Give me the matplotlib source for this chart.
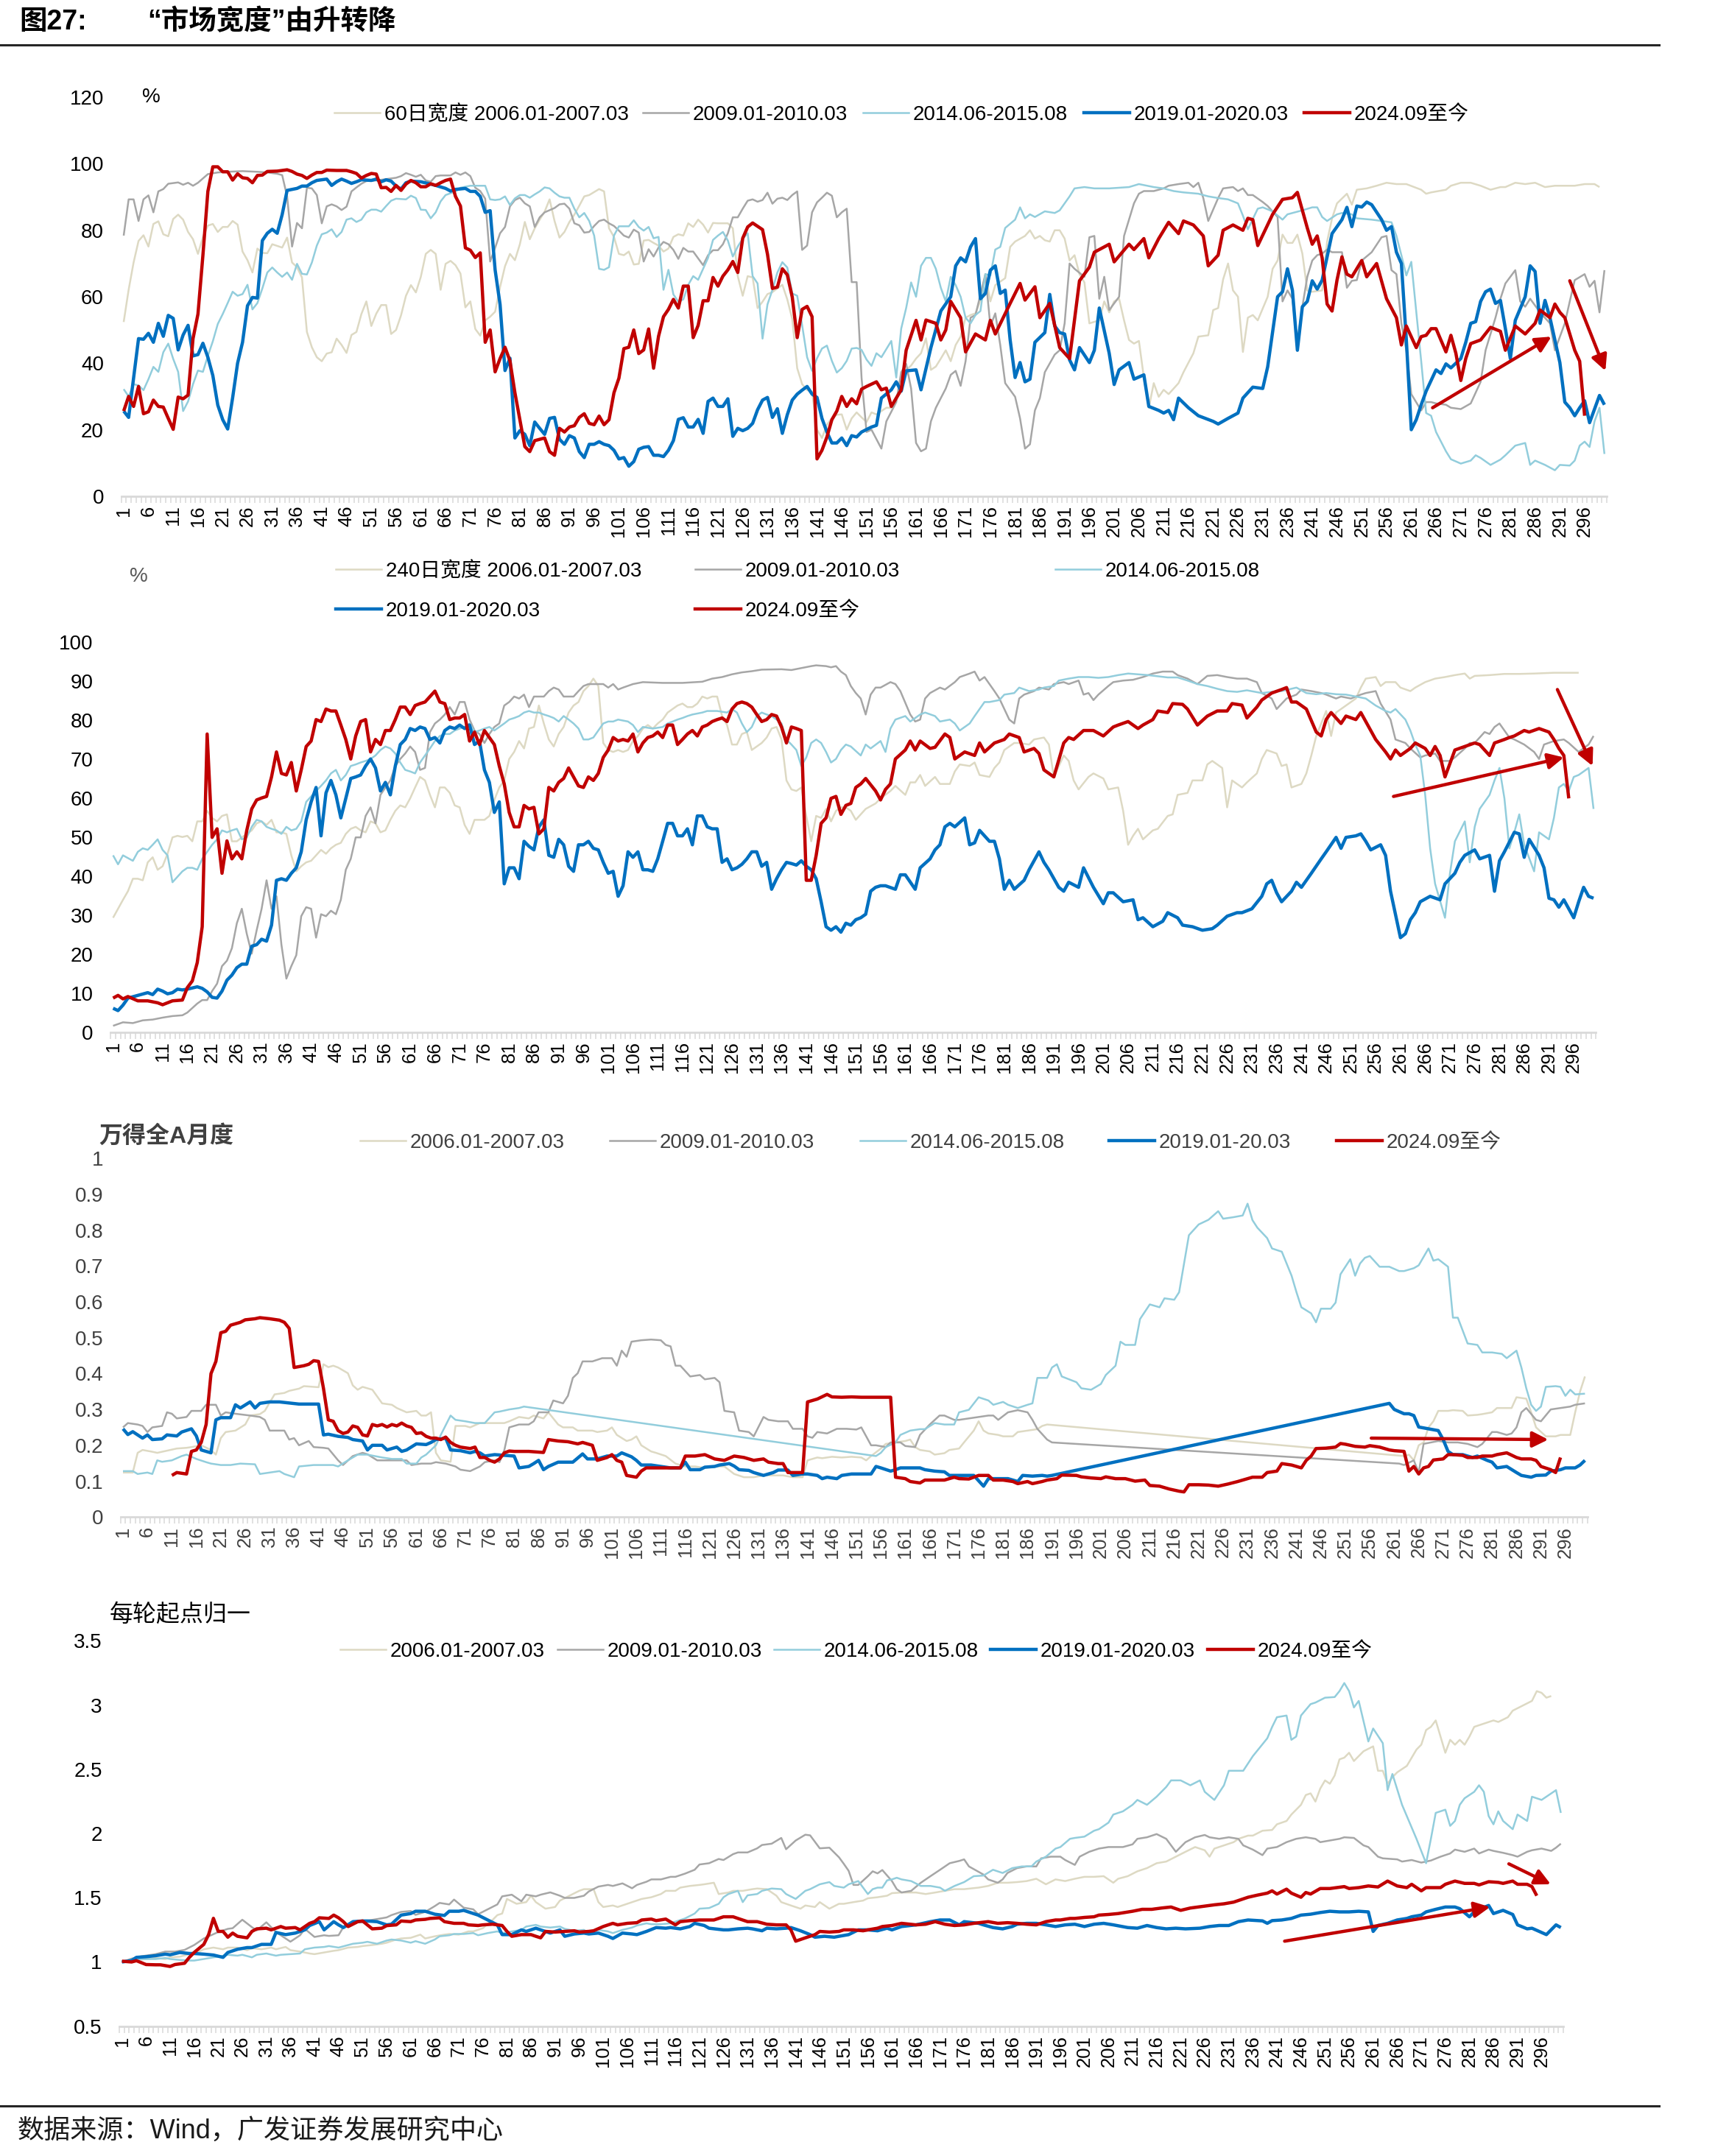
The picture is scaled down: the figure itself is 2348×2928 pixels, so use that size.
import numpy as np
import matplotlib
matplotlib.use('Agg')
import matplotlib.pyplot as plt
from matplotlib.lines import Line2D

plt.rcParams['font.family'] = ['Liberation Sans', 'Noto Sans CJK SC']

W, H = 2348, 2928

# ---------------- panel 1: 60日宽度 (%) ----------------
p1_beige = [(1,52.4),(2,62.1),(3,70.3),(4,76.8),(5,78.5),(6,75.1),(7,81.9),(8,82.7),(9,78.8),(10,78.2),(11,83.4),(12,84.7),(13,83.2),(14,79.5),(15,77.3),(16,72.9),(17,78),(18,81.4),(19,81.9),(20,79.5),(21,81),(22,81),(23,82.8),(24,81.7),(25,73.6),(26,71),(27,67.3),(28,74.5),(29,73.2),(30,73.1),(31,75.8),(32,75.3),(33,74.8),(34,77.8),(35,70.3),(36,68.9),(37,65.8),(38,49.4),(39,44.8),(40,41.8),(41,40.6),(42,42.9),(43,43.3),(44,47.4),(45,45.5),(46,43.1),(47,48.5),(48,49.4),(49,54.8),(50,58.6),(51,51.2),(52,54.9),(53,57.5),(54,57.5),(55,48.8),(56,50),(57,54.4),(58,60.3),(59,63.5),(60,61.3),(61,66),(62,72.9),(63,74.1),(64,72.9),(65,62.1),(66,69.9),(67,70.8),(68,69.5),(69,67),(70,56.8),(71,58.6),(72,50.3),(73,48.3),(74,52.9),(75,54),(76,55.5),(77,62.9),(78,69.2),(79,72.9),(80,71),(81,75.8),(82,82.5),(83,77.3),(84,80.6),(85,83.2),(86,85.6),(87,89.3),(88,82.8),(89,77.8),(90,79.5),(91,82.5),(92,84.7),(93,87.4),(94,90.2),(95,90.6),(96,91.5),(97,92.4),(98,91.7),(99,80.6),(100,78),(101,72.9),(102,72.5),(103,73.6),(104,69.7),(105,69.9),(106,76.9),(107,77.1),(108,76.2),(109,75.4),(110,73.6),(111,74.5),(112,78),(113,78.8),(114,78.4),(115,82.1),(116,81),(117,83.2),(118,81.7),(119,79.3),(120,82.2),(121,82.1),(122,82.1),(123,82.1),(124,80.6),(125,66.2),(126,60.3),(127,66.2),(128,65.8),(129,56.6),(130,58.5),(131,60.8),(132,61.4),(133,62.5),(134,63.6),(135,59.2),(136,53.3),(137,38.5),(138,33.7),(139,31.9),(140,31.5),(141,20),(142,17.5),(143,21.5),(144,23.4),(145,24.5),(146,24.6),(147,20),(148,23.4),(149,25.2),(150,23.7),(151,22.3),(152,25.2),(153,24.6),(155,26.6),(156,26.6),(157,29.9),(158,33.2),(159,38),(160,39.3),(161,41.4),(162,43),(163,47.5),(164,38),(165,39),(166,41.4),(167,43.9),(168,40.6),(169,45.5),(170,48),(171,53.7),(172,54.5),(173,55),(174,59),(175,66.8),(176,58.6),(177,63.5),(179,65.6),(180,75),(181,76.6),(183,78.3),(184,80),(185,77.5),(186,78.3),(187,77),(188,76.6),(189,80),(190,80),(191,77.5),(192,70.9),(193,72.5),(194,66.8),(195,64.3),(196,52),(198,52.9),(199,58.6),(200,55.3),(201,58.6),(202,59.4),(203,52.9),(204,47),(205,45.9),(206,46.7),(207,35.7),(208,26.6),(209,34),(210,29.9),(211,32),(212,30.7),(214,34),(215,37.3),(217,43),(218,48),(220,48.4),(221,56),(222,56.6),(223,65.2),(224,70),(225,61.9),(226,60),(227,43.4),(228,53.7),(229,54.5),(230,52.9),(232,60),(233,68.4),(234,70.9),(235,78.7),(236,76.2),(237,76.2),(238,78.7),(239,73),(240,61.9),(241,61.5),(243,61.9),(244,76.6),(245,83.6),(246,88.1),(248,91),(249,87.7),(250,92.2),(252,92.6),(254,93.4),(256,94.3),(258,93.9),(260,93.9),(263,92.2),(264,91),(265,91.4),(268,92.2),(269,93.4),(271,94.3),(273,94.3),(275,93.4),(277,92.2),(279,93),(280,93),(282,94.3),(284,93.9),(286,94.3),(288,93),(290,93.4),(292,93.4),(294,93.4),(296,93.9),(298,93.9),(299,93)]
p1_gray = [(1,78.4),(2,89.3),(3,89.3),(4,82.8),(5,89.3),(6,90.5),(7,85.4),(8,91.7),(9,92.4),(10,94),(12,94.4),(13,93.7),(14,94.3),(15,93.4),(16,94.3),(17,95.6),(18,96.9),(20,97.4),(22,97.6),(25,97.8),(28,97.6),(30,97.4),(32,97),(33,96.6),(34,90.2),(35,75.1),(36,82.2),(37,80.6),(38,92.8),(39,92.6),(40,90.6),(41,82.1),(42,87.2),(43,87.8),(44,87.2),(45,86.1),(46,87.1),(47,91.7),(48,92.9),(49,94),(50,94.8),(52,95),(54,95.4),(56,95.8),(57,96.3),(58,97.2),(59,96.7),(60,96.1),(61,96.7),(62,95),(63,94.6),(64,96.3),(65,96.5),(67,96.5),(68,97.4),(69,96.7),(70,97.4),(71,96.3),(72,92.8),(73,91.8),(74,89.5),(75,70.6),(76,74.7),(77,79.1),(78,81),(79,87.2),(80,89.1),(81,89.8),(82,88.1),(83,87.2),(84,81),(85,83.9),(86,85.4),(88,86.7),(89,87.8),(90,88),(91,86.5),(92,82.1),(93,81.5),(94,79.3),(95,79.5),(96,81.3),(97,82.8),(98,83.2),(99,82.1),(100,81.3),(101,79.9),(102,78.4),(103,77.8),(104,80.2),(105,79.3),(106,70.6),(107,74.3),(108,72.1),(109,74.8),(110,76.5),(111,75.8),(112,74.1),(113,71.4),(114,74.7),(115,73.6),(116,73.6),(118,69.5),(119,72.5),(120,74),(121,74),(122,75.8),(123,79.1),(124,83.9),(125,83.9),(126,86.5),(127,88.9),(128,89.3),(129,88.6),(130,89.1),(131,91.3),(132,88),(133,89.5),(134,89.8),(135,89.1),(136,90.6),(137,91.7),(138,74.1),(139,75.4),(140,85.4),(141,88.4),(142,89.8),(143,91.3),(144,90.4),(145,83.9),(146,85.4),(147,86.5),(148,64.4),(149,64.4),(150,35.5),(151,19.3),(152,20),(154,14.3),(155,22.5),(157,28.3),(158,37.3),(159,39.8),(160,32.4),(161,16),(162,13.5),(163,14.3),(164,22.5),(165,26.6),(167,32.4),(168,36.5),(169,37.7),(170,33.2),(171,40.6),(172,53.7),(173,54.5),(175,66.8),(176,51.2),(177,55),(178,45.5),(179,34),(181,29.9),(182,23.4),(183,14.3),(184,15.6),(185,25.8),(186,29.5),(187,37.3),(189,42.6),(190,43.9),(191,52),(192,70),(193,68.4),(195,66),(196,77.9),(197,78.3),(198,59.4),(199,66),(200,56),(202,60),(203,78.3),(204,83.2),(205,88.1),(206,91),(207,91.8),(209,91.8),(211,92.6),(212,93.4),(214,93.9),(216,94.3),(217,93),(218,94.3),(219,89.7),(220,82.8),(222,89.7),(223,92.6),(225,93),(226,91.8),(227,92.6),(228,90.6),(229,90.6),(231,88.5),(232,87.3),(234,84),(235,58.6),(236,61.9),(237,59.4),(238,46.3),(239,57),(240,66),(241,70.9),(242,72.5),(243,73),(244,74.2),(245,73.4),(247,73.4),(248,62.7),(249,64.8),(250,65),(251,70.9),(253,73.4),(255,77.9),(256,78.3),(257,68),(258,66.8),(259,52),(260,43.9),(261,30.7),(263,25.8),(264,28.3),(265,28.3),(266,27.9),(268,27.5),(269,26.6),(271,26.2),(273,27.9),(275,34.4),(276,43.9),(278,53.7),(279,59.4),(280,64),(282,68),(283,58.6),(284,57),(285,59.4),(287,55.3),(289,52),(290,43.9),(292,52),(293,58.6),(294,65),(296,66.8),(297,63),(298,64.8),(299,55.3),(300,68)]
p1_lblue = [(1,32.2),(2,30),(3,33.7),(4,33.3),(5,31.9),(6,35.2),(7,38.9),(8,37.4),(9,43.3),(10,45.9),(11,41.3),(12,37.4),(13,25.6),(14,28.5),(15,33.7),(16,37.8),(17,37.4),(18,42.2),(19,46.6),(20,51.8),(21,54.8),(22,58.1),(23,61.5),(24,60.3),(25,60.8),(26,63.6),(27,56.2),(28,58.1),(29,62.5),(30,67.3),(31,68.8),(32,67.3),(33,66),(34,67.3),(35,65.1),(36,69.9),(37,66.9),(38,66.7),(39,70.3),(40,75.4),(41,78.8),(42,79.3),(43,80.3),(44,78),(45,79.5),(46,83.2),(47,83.6),(48,82.5),(49,83.2),(50,85.4),(51,86.2),(52,86.2),(53,85.6),(54,87.3),(55,88.9),(56,89.5),(58,89.3),(59,90.4),(60,89.7),(61,86.2),(62,86.1),(63,83.6),(64,85.4),(65,88.7),(66,90.6),(68,91.7),(69,92.8),(71,93.4),(74,93.4),(75,89.3),(76,89.1),(77,89.3),(78,90.2),(79,87.6),(80,89.6),(81,90.6),(82,90.6),(83,89.8),(84,90.8),(85,91.7),(86,92.9),(87,92.6),(88,91.3),(89,90.2),(90,89.8),(91,89.8),(92,86.5),(93,83.9),(94,85.2),(95,82.8),(96,78.4),(97,68.4),(98,68.1),(99,68.9),(100,78.4),(101,81.2),(103,81.2),(104,83),(105,81),(106,79.9),(107,81),(108,77.6),(109,78),(110,62.1),(111,68.1),(112,60.7),(113,58.5),(114,59.2),(115,63.6),(116,66.2),(117,65.1),(118,68.4),(119,71.7),(120,77.1),(121,78.4),(122,79.5),(123,76.9),(124,72.1),(125,75.1),(126,77.5),(127,79.1),(128,66.2),(129,64),(130,47.4),(131,57.7),(132,62.1),(133,67.3),(134,70.4),(135,68.8),(136,61),(137,60.3),(138,51.4),(139,41.8),(140,37.7),(141,41.5),(142,44.4),(143,45.3),(144,40.7),(145,37.2),(146,38.5),(147,40.7),(148,44.4),(149,44.6),(150,44),(151,41.1),(152,39.2),(153,43),(154,41.8),(156,46.7),(157,35.7),(158,50.4),(159,56.6),(160,64.3),(161,60),(162,69.3),(163,71.7),(164,71.7),(165,68.4),(166,62.7),(167,58.6),(168,66),(169,63.5),(170,60),(171,53.7),(172,52),(173,54.5),(174,55.7),(175,66.8),(176,66.4),(177,74.2),(178,75),(179,80.7),(181,83.2),(182,86.9),(183,83.6),(184,84.8),(185,84),(187,85.7),(189,85.2),(190,86),(192,90.2),(193,92.6),(195,93),(197,92.6),(200,92.6),(204,93),(206,93.9),(209,93),(211,92.6),(213,91.8),(215,91.4),(218,91),(220,90.2),(222,89.7),(224,89.3),(226,88.1),(227,84.4),(228,80.3),(230,86.5),(231,86.9),(233,85.7),(235,83.2),(236,84.8),(239,86),(241,86.9),(242,86.9),(243,84),(244,82.8),(246,84.8),(247,85.2),(249,84.8),(250,83.6),(253,83.2),(255,82.8),(257,82.4),(258,78.3),(259,72.5),(260,66.4),(261,70.5),(263,40.6),(264,25),(265,24.2),(266,19.3),(268,13.5),(269,11.1),(271,9.8),(273,10.7),(274,12.3),(275,11.5),(277,9.4),(279,11),(280,12.3),(282,15.2),(284,16),(285,9.4),(286,10.7),(288,9.4),(290,7.8),(291,9.4),(293,9.2),(294,10.7),(295,15.2),(296,16.4),(297,14.8),(298,22.5),(299,26.6),(300,12.7)]
p1_blue = [(1,25.6),(2,23.7),(3,35.5),(4,47.4),(5,47.2),(6,49),(7,46.3),(8,52),(9,48.1),(10,54.4),(11,53.5),(12,44),(13,48.5),(14,51.4),(15,42.2),(16,42.6),(17,46),(18,41.8),(19,36.3),(20,27.4),(21,23),(22,20.2),(23,29.6),(24,40),(25,46.3),(26,57.3),(27,59.8),(28,59.6),(29,76.9),(30,79.1),(31,80.3),(32,79.1),(33,84.7),(34,92),(36,92.6),(37,93.3),(38,93.3),(39,94.3),(40,95),(42,95.4),(43,93.5),(44,94.6),(45,95.4),(46,94.8),(47,94.1),(48,94.6),(49,95.2),(51,95),(52,95.4),(53,94.6),(54,95.2),(55,94.8),(56,93.3),(57,92.4),(58,94.3),(59,94.8),(61,94.6),(63,93.9),(64,93.5),(66,92.6),(67,91.8),(68,92.3),(70,92.6),(71,91.7),(72,91.7),(73,90.2),(74,85.4),(75,85.9),(76,68.1),(77,57.7),(78,37.8),(79,41.5),(80,17.5),(81,19.7),(82,18.6),(83,15.2),(84,22.3),(85,20.4),(86,18.6),(87,23.4),(88,23.7),(89,17.1),(90,15.6),(91,18.2),(92,17.5),(93,13.4),(94,11.6),(95,15.6),(96,15.6),(97,16.4),(98,15.6),(99,15.2),(100,13.8),(101,11.2),(102,11.6),(103,9),(104,10.4),(105,14.1),(106,14.7),(107,14.9),(108,12.3),(109,12.3),(110,11.9),(111,13.8),(112,16.7),(113,23.1),(114,23.6),(115,20.8),(116,20.8),(117,23.1),(118,18.9),(119,28.5),(120,29.5),(121,27),(122,27),(123,29.3),(124,18),(125,20.4),(126,19.7),(127,20.4),(128,21.9),(129,26),(130,28.9),(131,29.7),(132,23.7),(133,26.3),(134,18.9),(135,24.5),(136,28.9),(137,30.7),(138,31.9),(139,33),(140,30.7),(141,29.7),(142,23.4),(143,19.3),(144,16),(145,16),(146,17.5),(147,15.2),(148,18.2),(149,17.8),(150,19.3),(152,20.8),(153,21.3),(154,29.5),(156,32),(157,34.4),(158,31.6),(159,37.7),(161,38),(162,32),(164,44.7),(166,55.7),(168,60),(169,69.3),(170,71.7),(171,70.5),(172,75),(173,77.5),(174,59.4),(175,61),(176,68),(177,69.3),(178,61),(179,62),(180,47),(181,35.7),(182,40.2),(183,34.4),(184,35.2),(185,46.3),(187,49.2),(188,60.7),(189,51.2),(190,49.2),(191,48.8),(192,41),(193,38),(194,44.7),(196,40.2),(197,43.9),(198,56.6),(200,43),(201,33.6),(202,38),(204,40.2),(205,35.2),(207,36.5),(208,27),(210,25.8),(211,25),(212,25.8),(213,23),(214,29.5),(216,26.6),(218,24.2),(221,22.5),(222,21.7),(224,23.4),(226,25),(227,29.5),(229,32.8),(231,32.4),(232,38.9),(234,60),(235,61.5),(236,68.4),(237,61.9),(238,43.9),(239,57),(240,58.6),(241,64.8),(242,62.3),(243,65),(245,79),(246,81.1),(247,83.2),(248,86.9),(249,81.1),(250,87.3),(251,87),(252,88.5),(253,87.7),(255,83.2),(256,80),(257,81.1),(258,73.4),(259,70),(260,47),(261,20),(262,23),(263,27.5),(264,31.6),(266,38),(267,36.9),(268,39.8),(269,38.6),(271,41.4),(272,46.3),(273,52),(274,52.5),(275,58.6),(276,61.5),(277,62.3),(278,58),(279,58.9),(280,50.4),(281,41.4),(282,52.9),(284,60),(285,69.3),(286,67.6),(287,52),(288,58.9),(289,53.7),(291,40.2),(292,28.3),(293,26.6),(294,24.2),(295,26.6),(296,28.7),(297,22.1),(298,26.2),(299,30.3),(300,27.5)]
p1_red = [(1,25.6),(2,30),(3,27),(4,33),(5,24.8),(6,25.4),(7,28.9),(8,27),(9,26.8),(10,23.4),(11,20.1),(12,29.8),(13,29.3),(14,30.4),(15,47.4),(16,54.8),(17,72.5),(18,91.7),(19,99.1),(20,99.1),(21,97.6),(22,97.6),(23,95.1),(24,97),(25,95.8),(26,95.6),(27,94.3),(28,96.5),(29,96.6),(30,97.7),(32,97.8),(34,98.2),(35,97.7),(36,96.9),(37,96.5),(38,95.6),(39,96.6),(40,97.4),(41,97.4),(42,98.1),(44,98),(46,98),(47,97.6),(48,97.1),(49,95.7),(50,96.5),(51,97.1),(52,96.9),(53,92.8),(54,92.9),(55,91.7),(56,93.5),(57,92),(58,93.9),(59,95),(60,94.3),(61,93.1),(62,93.1),(63,94),(64,93.5),(65,94.3),(66,95),(67,95.4),(68,90.2),(69,87.3),(70,74.7),(71,74),(72,71.8),(73,73.2),(74,46.3),(75,50),(76,37.4),(77,41.4),(78,44.8),(79,40.7),(80,31.1),(81,23),(82,14.9),(83,13.4),(84,16.7),(86,17.5),(87,13.4),(88,12.3),(89,20.4),(90,19.3),(91,20.8),(92,21.2),(93,23.7),(94,24.8),(95,21.9),(96,21.5),(97,24.1),(98,21.5),(99,23),(100,31.1),(101,35.5),(102,44.4),(103,44.8),(104,50),(105,42.9),(106,44),(107,50.3),(108,38.5),(109,48.1),(110,54),(111,56.2),(112,59.2),(113,56.6),(114,63.2),(115,63.2),(116,47.7),(117,51.4),(118,58.8),(119,58.8),(120,65.8),(121,63.2),(122,66.2),(123,68.1),(124,70.6),(125,67.3),(126,77.6),(127,81),(128,82.2),(129,81.2),(130,80.2),(131,72.8),(132,62.5),(133,62.9),(134,68.4),(135,66.6),(136,59.9),(137,47.7),(138,56.2),(139,57.1),(140,54),(141,11.2),(142,13.8),(143,17.8),(144,23),(145,25.6),(146,30),(147,27),(148,29.3),(149,27.8),(150,32.2),(151,33),(153,34.4),(154,32),(155,32.5),(156,27),(158,32),(159,43.9),(161,52.9),(162,47),(163,53),(165,52),(166,47),(167,50),(168,58.6),(170,53.7),(171,43.4),(173,48.8),(175,47),(176,52.9),(177,48.8),(180,58),(182,64),(183,59),(185,63),(186,53.7),(188,58),(190,44.7),(192,41.4),(194,64.8),(196,68.9),(197,73.4),(199,75),(200,75.8),(201,70.5),(204,75.8),(205,74.2),(207,77.5),(208,71.7),(210,77.5),(212,82.4),(214,79),(215,82.8),(217,81.6),(219,78.3),(220,69.3),(222,72.5),(223,80),(225,81.6),(227,80),(228,83.6),(229,83.2),(230,75.4),(233,84.8),(235,89.3),(237,89.8),(238,91.4),(240,80.7),(241,75.8),(242,78.3),(243,71.7),(244,57.8),(245,55.7),(246,65),(247,72),(248,66.8),(249,66),(251,70.9),(252,66),(254,70),(256,59.4),(258,53.7),(259,45.5),(260,51.2),(262,44.7),(263,48),(264,48.4),(265,50.4),(266,50.4),(268,43.4),(269,48.4),(270,43),(271,34.8),(272,41.4),(273,45.9),(275,47),(277,50.8),(279,49.6),(280,43.9),(282,51.2),(284,48.8),(286,52),(287,56),(289,53.7),(290,57.8),(291,55.3),(292,53.7),(294,43.9),(295,40.6),(296,24.2)]

# ---------------- panel 2: 240日宽度 (%) ----------------
p2_beige = [(1,29.3),(2,31.6),(3,33.9),(4,36.1),(5,39.3),(6,39.3),(7,38.9),(8,43.5),(9,44.8),(10,41.6),(11,42.5),(12,45.7),(13,49.9),(14,50.3),(15,50),(16,50.3),(17,48.9),(18,54),(19,54),(20,56.7),(21,54.9),(22,54),(23,55.4),(24,55.8),(25,48.9),(26,48.9),(27,49.9),(28,50.8),(29,51.7),(30,53.5),(31,54),(32,53.1),(33,54.4),(34,51.2),(35,51.2),(36,50.8),(37,45.3),(38,41.2),(39,42.5),(40,43.5),(41,43.9),(42,45.3),(43,46.7),(44,45.7),(45,47.1),(46,48),(47,48.5),(48,50.8),(49,52.1),(50,52.6),(51,51.7),(52,51.2),(53,54),(54,53.5),(55,51.2),(56,51.7),(57,54.4),(58,56.7),(59,58.1),(60,57.6),(61,59.9),(62,62.7),(63,65.4),(64,64.5),(65,60.8),(66,57.6),(67,62.7),(68,62.7),(69,61.3),(70,58.1),(71,57.6),(72,53.1),(73,50.8),(74,54.4),(75,54.4),(76,54.4),(77,55.4),(78,59.5),(79,62.7),(80,64.5),(81,70),(82,71.8),(83,74.6),(84,72.7),(85,77.8),(86,78.2),(87,83.7),(88,79.1),(89,75),(90,73.2),(91,76.4),(92,78.2),(93,81.9),(94,83.7),(95,84.6),(96,87.4),(97,88.7),(98,90.6),(99,88.7),(100,74.1),(101,72.3),(102,71.8),(103,72.3),(104,71.8),(105,72.3),(106,74.6),(107,75.9),(108,77.8),(109,78.7),(110,77.8),(111,79.1),(112,80.1),(113,81.9),(114,82.8),(115,83.7),(116,84.2),(117,83.3),(118,83.3),(119,84.2),(120,86),(121,85.5),(122,86),(123,86),(124,81),(125,78.7),(126,73.7),(127,73.7),(128,76.4),(129,76.9),(130,72.3),(131,73.2),(132,74.1),(133,75.5),(134,77.8),(135,78.2),(136,75),(137,64.5),(138,62.2),(139,61.8),(140,62.7),(141,55.4),(142,48.9),(143,55.4),(144,54.9),(145,57.2),(146,54),(147,56.7),(148,57.6),(149,57.6),(150,56.7),(151,54.4),(152,55.8),(153,57.2),(155,58.6),(156,59.9),(158,61.8),(159,63.1),(161,60.8),(162,64),(163,64),(164,65.9),(165,63.1),(167,65.4),(168,63.6),(170,63.6),(171,66.8),(172,68.6),(174,68.2),(175,69.1),(176,65.9),(178,65.4),(179,67.7),(180,69.1),(181,72.3),(183,74.1),(184,74.1),(186,73.7),(187,75),(189,75.5),(190,73.7),(191,65.4),(193,70.9),(194,69.5),(195,64.5),(196,62.2),(198,65.4),(199,66.3),(201,65),(202,62.2),(204,62.7),(205,56.7),(206,48),(207,50.3),(208,52.1),(209,49.4),(211,51.7),(212,52.1),(214,55.4),(215,55.8),(216,60.8),(218,61.3),(219,64.5),(221,64.5),(222,68.6),(223,69.5),(225,67.7),(226,57.6),(227,64.5),(229,62.7),(230,64),(232,66.3),(233,70),(234,72.3),(236,71.4),(237,68.2),(238,68.6),(239,62.7),(241,63.6),(242,66.3),(243,70.9),(244,75.9),(246,82.3),(247,75.9),(248,81.9),(250,83.7),(252,85.5),(253,88.3),(254,90.6),(256,91),(257,88.7),(258,89.7),(260,89.7),(261,88.3),(263,87.4),(264,88.3),(266,89.7),(268,90.6),(270,91),(272,91.5),(274,91.9),(275,90.6),(276,91.3),(279,91.5),(282,91.8),(285,91.8),(288,91.9),(292,92.1),(295,92.1),(297,92.1)]
p2_gray = [(1,1.6),(3,2.5),(5,2.3),(7,3),(9,3.2),(11,3.7),(13,4.1),(15,4.3),(16,5),(18,7.3),(19,8.2),(20,8.2),(21,10.5),(22,12.4),(23,16.9),(24,18.3),(25,21.5),(26,27.9),(27,31.6),(28,25.2),(29,20.1),(30,26.1),(31,31.6),(32,38.9),(33,31.6),(34,34.8),(35,22.4),(36,13.7),(37,16.9),(38,19.7),(39,29.7),(40,32),(41,31.6),(42,24.2),(43,30.2),(44,29.7),(45,31.1),(46,30.2),(47,33.9),(48,41.6),(49,44.4),(50,49.9),(51,49.9),(52,55.4),(53,57.6),(54,53.5),(55,60.8),(56,62.7),(57,64.5),(58,68.2),(59,70),(60,71.4),(61,73.2),(62,71.8),(63,67.2),(64,67.7),(65,76.9),(66,79.1),(67,80.1),(68,81.4),(69,83.3),(70,81.4),(71,84.6),(72,84.6),(73,80.1),(74,77.3),(75,76.4),(76,74.1),(77,76.4),(78,78.2),(79,79.1),(80,83.7),(81,84.6),(82,86),(83,85.5),(84,86.5),(85,83.3),(86,86),(88,86),(89,87.4),(90,88.3),(91,87.8),(92,86),(94,86),(95,87.4),(96,88.7),(97,89.2),(100,89.2),(101,88.3),(102,89.2),(103,87.8),(104,88.3),(106,89.2),(108,89.7),(112,89.5),(116,89.5),(120,89.8),(122,90.6),(124,91),(126,91.7),(128,92.2),(130,92.5),(132,92.9),(136,93),(138,92.8),(140,93.3),(142,93.8),(143,94),(145,93.8),(146,93.5),(147,93.8),(148,92.4),(149,91.5),(150,88.7),(151,86.9),(152,85.5),(153,81.4),(154,86.5),(155,88.3),(156,88.3),(158,89.7),(159,89.2),(160,87.4),(162,81.4),(163,79.6),(164,80.1),(165,85.5),(166,86.9),(168,88.3),(169,87.8),(171,89.7),(172,91),(174,91.9),(175,92.4),(176,90.1),(177,91),(179,87.4),(180,85.5),(182,80.1),(183,79.1),(184,85.5),(185,86.5),(187,87.4),(188,88.3),(190,87.8),(191,89.2),(193,89.7),(194,89.2),(196,90.1),(197,86.5),(198,86.9),(199,85.1),(200,86.5),(202,88.7),(203,89.7),(205,90.1),(207,90.3),(209,91),(211,91.9),(213,92.4),(215,92.4),(216,91.5),(218,90.6),(220,89.2),(222,91.3),(224,91.5),(226,91),(228,90.6),(230,90.6),(232,89.7),(233,86.9),(235,85.5),(236,82.8),(238,85.5),(240,86.5),(241,87.8),(243,87.4),(245,86.9),(246,86.5),(248,85.5),(249,86),(251,85.5),(253,86.5),(254,86.9),(256,87.4),(257,84.2),(259,80.1),(260,75),(262,74.1),(263,72.7),(265,70.4),(266,70.9),(268,71.4),(269,69.5),(271,69.5),(272,70.4),(274,72.7),(275,74.1),(276,74.1),(278,76.9),(279,76.4),(280,78.2),(281,79.1),(283,75.5),(284,75),(286,73.7),(288,71.8),(289,70),(290,73.7),(292,74.6),(294,75),(295,74.1),(297,71.8),(299,73.7),(300,75.9)]
p2_lblue = [(1,45.3),(2,43),(3,45.3),(4,44.6),(5,43.9),(6,46.2),(7,47.1),(8,46.7),(9,48),(10,49.4),(11,46.7),(12,45.3),(13,38.4),(14,39.8),(15,41.2),(16,42.1),(17,42.1),(18,41.6),(19,44.4),(20,46.2),(21,48),(22,49.4),(23,51.7),(24,51.2),(25,51.7),(26,52.1),(27,49.4),(28,49.9),(29,52.6),(30,54.4),(31,54),(32,52.6),(33,52.1),(34,51.7),(35,50.8),(36,52.6),(37,51.7),(38,52.1),(39,54),(40,59),(41,60.4),(42,61.8),(43,63.1),(44,64.5),(45,66.3),(46,67.2),(47,64.5),(48,65.9),(49,68.2),(50,68.6),(51,69.1),(52,69.5),(53,70),(54,70.9),(55,72.3),(56,73.2),(57,72.7),(58,71.4),(59,69.1),(60,67.2),(61,66.8),(62,66.3),(63,69.1),(64,70.9),(65,72.7),(66,74.6),(67,75.9),(68,76.4),(69,76.4),(70,77.3),(71,77.8),(72,78.2),(73,79.1),(74,76.9),(75,77.3),(76,77.8),(77,78.2),(78,77.3),(79,78.2),(80,79.1),(81,80.1),(82,80.5),(83,81),(84,81.9),(85,82.3),(86,81.9),(87,81.9),(88,81.4),(89,81),(90,80.5),(91,79.6),(92,81),(93,80.1),(94,79.1),(95,77.8),(96,75),(97,75),(98,75.5),(99,77.3),(100,79.1),(101,79.6),(102,79.6),(103,80.1),(105,79.6),(106,78.7),(107,76.9),(108,78.2),(110,77.8),(112,78.2),(113,79.1),(114,79.6),(115,80.1),(116,80.5),(117,81),(118,81.4),(120,81.9),(121,82.3),(123,82.3),(125,81.9),(126,82.8),(127,81.9),(128,79.1),(129,76.9),(130,78.2),(131,81),(132,81.9),(133,81.4),(134,81),(135,80.1),(136,79.1),(137,75),(138,73.7),(139,72.3),(140,68.2),(141,70.4),(142,74.1),(143,75),(144,74.1),(145,71.8),(146,69.1),(147,70),(148,72.3),(149,73.7),(150,73.2),(152,70.9),(153,73.7),(154,72.7),(156,74.6),(157,71.8),(158,77.8),(159,80.1),(161,81),(162,79.6),(164,81.4),(165,81.9),(167,81),(168,79.6),(170,80.1),(171,79.1),(172,77.3),(174,79.1),(175,81),(177,84.6),(178,84.6),(180,85.1),(181,86.5),(183,86.9),(184,88.3),(186,87.4),(188,87.8),(189,88.3),(191,88.7),(192,90.1),(194,90.6),(196,91),(198,91),(200,90.8),(202,91),(204,91.5),(206,91.9),(208,91.7),(210,91.5),(212,91.2),(214,90.9),(216,90.9),(218,90.1),(220,89.2),(222,88.7),(224,88),(226,87.4),(228,87.2),(230,87.6),(233,86.9),(235,87.2),(237,87.4),(240,88.3),(242,86.9),(244,86.6),(246,86.9),(248,86.6),(250,86.5),(252,86),(254,85.5),(256,83.7),(258,82.3),(259,81.9),(260,82.8),(262,80.1),(263,77.3),(264,73.7),(265,70.9),(266,60.8),(267,47.1),(268,38),(270,29.3),(271,40.7),(272,48.9),(274,54),(275,43.5),(276,52.6),(277,57.2),(279,60.8),(280,64.5),(281,67.7),(282,59.9),(283,47.1),(284,51.2),(285,55.8),(286,48),(288,41.2),(289,51.2),(291,49.4),(292,54.9),(293,62.7),(294,63.6),(295,61.8),(296,65.4),(297,65.9),(299,67.7),(300,57.2)]
p2_blue = [(1,6.1),(2,5.5),(3,6.9),(4,8.7),(6,9.4),(8,10.1),(9,9.6),(10,11),(11,10.5),(12,9.8),(13,10.1),(14,11),(15,10.8),(16,11),(18,11.6),(19,11.2),(20,10.3),(21,8.9),(22,8.7),(23,10.5),(24,13.3),(25,14.6),(26,16.5),(27,17.4),(28,17.4),(29,22),(30,22.4),(31,23.8),(32,23.3),(33,27.4),(34,38.9),(35,39.3),(36,38.9),(37,40.7),(38,42.1),(39,46.2),(40,54.4),(41,59),(42,62.7),(43,50.3),(44,61.3),(45,64.5),(46,60.8),(47,54.9),(48,59.9),(49,65),(50,65.4),(51,65.9),(52,68.2),(53,70),(54,67.7),(55,61.8),(56,64),(57,60.8),(58,68.2),(59,73.7),(60,75),(61,77.8),(62,77.3),(63,78.2),(64,77.8),(65,75),(66,75.5),(67,74.1),(68,77.3),(69,78.2),(70,77.8),(71,78.7),(72,77.8),(73,78.7),(74,73.7),(75,74.6),(76,67.2),(77,64),(78,56.3),(79,59),(80,38),(81,42.1),(82,42.1),(83,39.3),(84,48.9),(85,47.6),(86,46.7),(87,52.6),(88,54.4),(89,45.3),(90,44.8),(91,49.4),(92,48),(93,42.5),(94,41.2),(95,48),(96,48),(97,48.9),(98,47.1),(99,46.7),(100,43.5),(101,40.7),(102,41.2),(103,34.8),(104,37.5),(105,46.2),(106,44.8),(107,46.2),(108,41.6),(109,41.6),(110,41.2),(111,44.4),(112,48.9),(113,53.5),(114,53.5),(115,50.3),(116,50.3),(117,52.1),(118,48),(119,55.4),(120,55.4),(121,52.6),(122,52.1),(123,52.1),(124,43.5),(125,44.4),(126,41.6),(127,42.1),(128,43),(129,44.4),(130,46.2),(131,46.2),(132,42.5),(133,43.5),(134,36.6),(135,39.3),(136,41.6),(137,43.5),(138,43.2),(139,42.8),(140,43.9),(141,42.5),(142,41.6),(143,39.3),(144,33.4),(145,27),(146,26.1),(147,27),(148,25.6),(149,27.9),(150,27.4),(151,28.8),(152,29.3),(153,30.2),(154,36.1),(155,37.1),(156,37.5),(157,37.5),(159,36.6),(160,40.3),(161,40.3),(163,36.6),(164,42.1),(166,44.4),(167,46.7),(168,48),(169,52.6),(170,53.5),(171,52.6),(173,54.9),(174,48),(175,48.5),(176,51.7),(178,48.9),(179,48.9),(180,44.4),(181,36.6),(182,38.9),(183,36.6),(185,38.9),(186,41.6),(188,46.2),(189,43.5),(190,41.6),(192,37.1),(193,36.1),(194,38.4),(196,37.1),(197,42.1),(199,37.1),(201,32.9),(202,35.7),(203,35.7),(205,33.4),(207,33.9),(208,28.8),(209,29.3),(211,27),(213,28.4),(214,30.6),(216,29.3),(217,27.4),(219,27),(221,26.1),(223,26.5),(224,27.4),(226,29.7),(228,30.6),(229,30.6),(231,31.6),(233,34.8),(234,38),(235,38.9),(236,35.7),(237,33.4),(239,36.1),(240,38.4),(241,37.1),(243,40.7),(245,44.4),(246,46.2),(248,49.9),(249,47.1),(250,49.9),(252,50.3),(253,50.8),(254,48.9),(255,46.7),(257,48),(258,45.3),(259,36.1),(261,24.2),(262,25.2),(263,28.8),(264,30.6),(265,33.4),(267,34.8),(269,33.9),(270,38),(272,40.7),(273,43.5),(274,45.3),(276,46.7),(277,44.4),(279,45.3),(280,36.1),(281,43.9),(282,46.2),(284,51.2),(285,50.8),(286,44.8),(287,49.4),(289,45.3),(290,42.1),(291,34.3),(292,33.9),(293,32),(294,33.9),(296,29.3),(297,33.4),(298,37.1),(299,34.8),(300,34.3)]
p2_red = [(1,8.7),(2,9.4),(3,8.5),(4,9.1),(6,8),(8,8),(10,7.5),(11,7),(13,8),(15,8.2),(16,11.4),(17,13.1),(18,17.8),(19,27),(20,76.4),(21,49.9),(22,52.1),(23,40.7),(24,49),(25,44.4),(26,46.2),(27,44.4),(28,51.7),(29,57.2),(30,59.5),(31,60),(32,60.4),(33,65.4),(34,71.8),(35,66.3),(36,65.9),(37,69.1),(38,61.8),(39,67.2),(40,73.2),(41,74.6),(42,80.1),(43,79.6),(44,82.8),(45,82.3),(46,82.3),(47,78.7),(48,75),(49,70),(50,75.9),(51,79.6),(52,80.1),(53,71.8),(54,75),(55,73.7),(56,77.3),(57,77.3),(58,80.1),(59,83.3),(60,83.3),(61,81.4),(62,83.7),(63,84.2),(64,84.6),(65,86),(66,87.4),(67,84.6),(68,84.2),(69,80.1),(70,80.5),(71,80.5),(72,81.4),(73,74.6),(74,76.9),(75,73.7),(76,77.3),(77,75.5),(78,73.7),(79,68.2),(80,63.6),(81,56.3),(82,52.6),(83,52.6),(84,58.1),(85,57.2),(86,57.6),(87,50.8),(88,52.1),(89,62.7),(90,61.8),(91,64),(92,65),(93,67.7),(94,65.4),(95,63.1),(96,62.7),(97,65.4),(98,64.5),(99,66.3),(100,70.4),(101,72.3),(102,75.5),(103,74.6),(104,75),(105,74.6),(106,76.4),(107,71.8),(108,74.1),(109,75.5),(110,75.9),(111,76.9),(112,75.5),(113,78.7),(114,78.7),(115,73.7),(116,75),(117,76.4),(118,77.3),(119,75.9),(120,78.2),(121,78.7),(122,79.6),(123,80.1),(124,80.5),(125,79.6),(126,82.8),(127,84.2),(128,84.6),(129,84.2),(130,83.3),(131,81.4),(132,79.6),(133,80.1),(134,81.4),(135,81),(136,78.2),(137,74.1),(138,78.2),(139,77.8),(140,77.3),(141,38.9),(142,38.9),(143,45.3),(144,53.5),(145,54.9),(146,59.9),(147,60.4),(148,55.8),(149,58.1),(150,58.6),(151,62.7),(152,63.6),(153,65),(155,61.8),(156,59.5),(157,62.2),(158,63.6),(159,70),(161,72.3),(162,74.6),(163,72.3),(164,74.6),(166,72.7),(167,73),(169,76.4),(170,75.5),(171,70),(173,71.8),(175,70.9),(176,74.1),(177,71.8),(179,74.1),(181,75),(182,76.4),(184,75.5),(185,71.8),(187,72.7),(188,71.4),(189,67.2),(191,65.4),(193,74.1),(194,75.5),(195,75),(197,77.3),(199,77.3),(201,75.9),(203,78.2),(204,78.7),(206,79.6),(208,77.8),(209,78.7),(211,80.1),(212,82.3),(214,81.9),(215,84.2),(217,84),(218,82.8),(220,78.7),(222,81),(224,82.3),(226,82.3),(227,84.2),(229,83.8),(230,80.5),(232,83.3),(233,85.1),(235,86.9),(237,87.8),(238,88.3),(239,84.6),(240,84.6),(242,82.8),(244,76.9),(245,75.9),(246,80.1),(247,81.9),(249,79.1),(250,81),(252,80.1),(253,81.9),(255,77.3),(256,75),(258,71.8),(259,70),(260,72.3),(261,70.9),(263,72.7),(264,74.1),(266,72.7),(267,70.9),(268,73.2),(269,70.9),(270,65.4),(272,72.3),(274,73.2),(276,74.1),(277,73.7),(279,70.9),(280,74.1),(282,75),(283,75.5),(284,75.9),(286,77.3),(287,76.9),(289,77.8),(291,76.9),(292,75),(293,72.7),(294,70.9),(295,59.9)]

# ---------------- panel 3: 万得全A月度 ----------------
p3_beige = [(1,0.124),(3,0.124),(4,0.179),(5,0.187),(7,0.182),(8,0.179),(10,0.185),(12,0.191),(14,0.193),(15,0.195),(17,0.2),(19,0.187),(20,0.174),(21,0.22),(22,0.237),(24,0.241),(26,0.258),(27,0.283),(29,0.287),(30,0.296),(32,0.342),(34,0.346),(35,0.352),(37,0.358),(38,0.365),(41,0.362),(42,0.426),(43,0.418),(44,0.422),(45,0.417),(47,0.401),(48,0.367),(49,0.355),(50,0.363),(52,0.355),(54,0.317),(56,0.313),(57,0.304),(59,0.292),(61,0.296),(62,0.283),(63,0.283),(64,0.292),(65,0.179),(66,0.158),(68,0.154),(69,0.254),(71,0.254),(72,0.25),(74,0.262),(76,0.262),(77,0.262),(79,0.262),(80,0.267),(82,0.279),(84,0.275),(85,0.283),(87,0.275),(88,0.292),(90,0.258),(91,0.25),(93,0.25),(94,0.241),(97,0.241),(98,0.237),(100,0.241),(101,0.25),(102,0.229),(104,0.212),(105,0.216),(106,0.225),(107,0.2),(109,0.183),(110,0.179),(112,0.17),(114,0.149),(116,0.141),(118,0.141),(120,0.137),(122,0.141),(124,0.141),(126,0.12),(128,0.111),(130,0.111),(132,0.116),(134,0.116),(136,0.116),(138,0.111),(140,0.111),(141,0.158),(143,0.166),(144,0.164),(146,0.168),(148,0.166),(150,0.168),(152,0.166),(153,0.158),(154,0.17),(156,0.191),(157,0.204),(159,0.208),(161,0.212),(162,0.216),(163,0.195),(164,0.187),(166,0.183),(167,0.174),(169,0.178),(170,0.187),(172,0.191),(173,0.208),(175,0.241),(176,0.267),(177,0.241),(178,0.233),(180,0.229),(181,0.225),(183,0.225),(184,0.237),(186,0.241),(188,0.245),(189,0.254),(190,0.258),(263,0.17),(264,0.174),(265,0.158),(266,0.2),(267,0.208),(268,0.25),(269,0.267),(270,0.296),(272,0.296),(273,0.298),(275,0.296),(276,0.283),(278,0.285),(279,0.287),(281,0.292),(282,0.304),(283,0.304),(285,0.304),(286,0.334),(288,0.33),(289,0.292),(290,0.25),(292,0.225),(294,0.225),(295,0.229),(297,0.229),(298,0.292),(299,0.35),(300,0.392)]
p3_gray = [(1,0.25),(2,0.262),(4,0.258),(5,0.254),(6,0.237),(7,0.25),(9,0.254),(10,0.292),(11,0.288),(12,0.275),(14,0.279),(15,0.296),(17,0.296),(18,0.313),(20,0.313),(21,0.283),(22,0.292),(24,0.288),(27,0.283),(29,0.279),(30,0.271),(31,0.241),(34,0.241),(35,0.216),(36,0.22),(37,0.2),(39,0.212),(40,0.195),(42,0.193),(43,0.191),(45,0.158),(46,0.145),(48,0.17),(50,0.179),(51,0.175),(53,0.158),(55,0.158),(57,0.158),(59,0.158),(60,0.145),(62,0.149),(64,0.149),(65,0.153),(67,0.149),(69,0.141),(70,0.132),(71,0.13),(72,0.128),(74,0.141),(75,0.153),(77,0.158),(78,0.153),(79,0.187),(80,0.25),(82,0.258),(84,0.258),(85,0.267),(86,0.292),(88,0.292),(89,0.325),(91,0.317),(92,0.338),(93,0.388),(94,0.401),(95,0.434),(97,0.434),(99,0.443),(101,0.443),(102,0.422),(103,0.464),(104,0.447),(105,0.489),(107,0.493),(109,0.495),(111,0.493),(112,0.48),(113,0.476),(114,0.422),(115,0.422),(117,0.392),(119,0.396),(120,0.384),(122,0.388),(123,0.376),(124,0.296),(126,0.292),(127,0.241),(129,0.237),(130,0.225),(132,0.279),(133,0.271),(135,0.267),(137,0.267),(138,0.246),(140,0.246),(141,0.225),(142,0.221),(143,0.237),(145,0.233),(147,0.246),(149,0.246),(151,0.244),(152,0.25),(154,0.2),(155,0.2),(157,0.195),(158,0.208),(160,0.208),(161,0.198),(163,0.195),(164,0.229),(166,0.258),(168,0.283),(169,0.283),(171,0.271),(172,0.271),(174,0.275),(176,0.279),(178,0.283),(179,0.283),(180,0.271),(182,0.292),(184,0.298),(186,0.292),(187,0.271),(188,0.246),(190,0.216),(191,0.208),(262,0.149),(263,0.145),(265,0.158),(266,0.124),(267,0.204),(270,0.212),(272,0.208),(274,0.208),(276,0.204),(278,0.195),(279,0.204),(281,0.237),(282,0.237),(284,0.229),(285,0.233),(286,0.25),(287,0.292),(288,0.304),(290,0.271),(291,0.267),(293,0.3),(295,0.304),(297,0.308),(298,0.313),(300,0.317)]
p3_lblue = [(1,0.128),(3,0.128),(4,0.12),(6,0.124),(7,0.12),(8,0.158),(9,0.154),(11,0.158),(13,0.17),(14,0.174),(16,0.162),(18,0.153),(19,0.149),(21,0.145),(23,0.145),(25,0.149),(28,0.147),(29,0.12),(31,0.124),(33,0.128),(34,0.12),(36,0.111),(37,0.141),(40,0.145),(42,0.145),(44,0.145),(45,0.141),(47,0.158),(49,0.174),(51,0.174),(54,0.166),(56,0.162),(58,0.162),(59,0.149),(61,0.149),(62,0.166),(63,0.174),(65,0.2),(66,0.229),(68,0.283),(69,0.271),(71,0.267),(73,0.262),(75,0.262),(77,0.292),(78,0.294),(80,0.3),(82,0.304),(83,0.308),(155,0.17),(156,0.179),(157,0.195),(159,0.208),(160,0.229),(162,0.241),(164,0.245),(165,0.245),(167,0.262),(169,0.258),(171,0.258),(172,0.292),(174,0.299),(176,0.334),(178,0.325),(179,0.313),(181,0.321),(182,0.313),(184,0.304),(186,0.313),(187,0.317),(188,0.388),(190,0.388),(191,0.417),(192,0.426),(193,0.392),(196,0.376),(197,0.359),(199,0.355),(201,0.371),(202,0.396),(204,0.422),(205,0.489),(206,0.48),(208,0.48),(209,0.552),(211,0.593),(213,0.585),(214,0.61),(216,0.606),(217,0.627),(218,0.707),(219,0.786),(221,0.816),(223,0.829),(225,0.853),(226,0.832),(228,0.836),(230,0.841),(231,0.874),(232,0.828),(233,0.807),(235,0.778),(236,0.749),(238,0.74),(240,0.673),(241,0.627),(242,0.585),(244,0.568),(245,0.543),(246,0.581),(248,0.581),(249,0.598),(250,0.677),(252,0.719),(253,0.673),(254,0.707),(255,0.723),(256,0.728),(258,0.698),(260,0.698),(262,0.686),(263,0.686),(265,0.694),(266,0.702),(268,0.749),(269,0.715),(270,0.719),(272,0.698),(273,0.556),(274,0.556),(276,0.484),(278,0.48),(279,0.459),(281,0.459),(283,0.455),(284,0.443),(286,0.464),(287,0.417),(288,0.359),(289,0.313),(290,0.296),(291,0.308),(292,0.363),(294,0.365),(295,0.363),(296,0.338),(297,0.355),(298,0.342),(300,0.344)]
p3_blue = [(1,0.246),(2,0.23),(3,0.238),(5,0.22),(6,0.229),(7,0.216),(9,0.218),(10,0.229),(12,0.226),(13,0.237),(15,0.246),(16,0.226),(17,0.187),(18,0.183),(19,0.179),(20,0.271),(21,0.277),(23,0.277),(24,0.313),(25,0.304),(27,0.321),(28,0.304),(29,0.317),(31,0.321),(33,0.321),(35,0.318),(37,0.315),(40,0.315),(41,0.315),(42,0.229),(43,0.231),(45,0.225),(47,0.222),(48,0.216),(50,0.212),(51,0.187),(52,0.2),(54,0.2),(55,0.187),(57,0.195),(58,0.183),(59,0.187),(61,0.204),(63,0.202),(64,0.208),(65,0.216),(67,0.22),(68,0.187),(70,0.185),(72,0.179),(73,0.183),(74,0.179),(75,0.17),(77,0.174),(79,0.172),(81,0.17),(82,0.137),(84,0.141),(85,0.149),(86,0.158),(87,0.132),(88,0.141),(90,0.153),(92,0.153),(93,0.153),(95,0.176),(96,0.162),(98,0.162),(100,0.17),(102,0.17),(103,0.179),(105,0.168),(106,0.158),(107,0.145),(109,0.145),(111,0.141),(113,0.137),(115,0.137),(116,0.153),(117,0.132),(119,0.132),(120,0.139),(122,0.141),(123,0.145),(125,0.149),(126,0.142),(127,0.132),(129,0.13),(130,0.124),(132,0.116),(134,0.124),(135,0.131),(137,0.131),(138,0.116),(140,0.12),(141,0.12),(143,0.116),(144,0.107),(145,0.111),(147,0.107),(148,0.116),(150,0.12),(152,0.12),(154,0.12),(155,0.141),(156,0.137),(158,0.128),(159,0.132),(160,0.137),(162,0.137),(164,0.137),(165,0.132),(167,0.128),(169,0.126),(170,0.116),(172,0.116),(174,0.116),(175,0.116),(177,0.086),(178,0.107),(180,0.107),(182,0.107),(183,0.103),(184,0.099),(185,0.116),(187,0.114),(189,0.116),(190,0.114),(191,0.116),(260,0.317),(261,0.3),(263,0.288),(264,0.288),(265,0.283),(266,0.251),(268,0.246),(270,0.241),(271,0.216),(272,0.183),(273,0.174),(275,0.174),(277,0.166),(278,0.17),(280,0.158),(281,0.153),(282,0.137),(284,0.141),(286,0.124),(287,0.116),(289,0.111),(290,0.116),(292,0.117),(293,0.128),(295,0.132),(296,0.137),(298,0.137),(299,0.145),(300,0.158)]
p3_red = [(11,0.116),(12,0.124),(14,0.12),(15,0.183),(16,0.187),(17,0.208),(18,0.258),(19,0.4),(20,0.434),(21,0.514),(22,0.518),(23,0.535),(24,0.539),(25,0.543),(26,0.55),(28,0.553),(29,0.556),(31,0.553),(33,0.549),(34,0.543),(35,0.526),(36,0.417),(38,0.422),(39,0.426),(40,0.436),(41,0.434),(42,0.359),(43,0.271),(44,0.267),(45,0.241),(46,0.233),(47,0.237),(48,0.254),(49,0.25),(50,0.229),(51,0.226),(52,0.258),(53,0.254),(54,0.258),(55,0.251),(56,0.258),(57,0.254),(58,0.262),(59,0.254),(60,0.25),(61,0.233),(62,0.235),(63,0.225),(64,0.22),(65,0.22),(66,0.216),(67,0.223),(68,0.208),(69,0.2),(70,0.195),(71,0.193),(72,0.191),(73,0.195),(74,0.166),(75,0.166),(76,0.158),(77,0.153),(78,0.162),(79,0.179),(80,0.184),(81,0.183),(84,0.183),(87,0.18),(88,0.216),(90,0.212),(92,0.21),(94,0.204),(95,0.208),(97,0.2),(98,0.158),(100,0.166),(101,0.174),(102,0.158),(103,0.153),(104,0.116),(106,0.111),(107,0.128),(108,0.137),(111,0.137),(113,0.137),(115,0.137),(116,0.17),(118,0.17),(120,0.174),(122,0.162),(124,0.158),(126,0.17),(128,0.166),(130,0.158),(132,0.162),(133,0.153),(135,0.149),(136,0.149),(137,0.124),(139,0.124),(140,0.124),(141,0.321),(143,0.329),(145,0.342),(146,0.335),(148,0.334),(150,0.335),(152,0.334),(155,0.334),(158,0.334),(159,0.111),(161,0.107),(162,0.099),(164,0.095),(165,0.103),(167,0.103),(169,0.103),(171,0.111),(172,0.107),(174,0.106),(176,0.116),(178,0.116),(179,0.103),(181,0.103),(183,0.099),(184,0.093),(186,0.099),(187,0.093),(189,0.099),(190,0.103),(192,0.107),(193,0.117),(196,0.116),(197,0.112),(199,0.109),(201,0.107),(202,0.112),(204,0.107),(206,0.107),(208,0.1),(210,0.103),(211,0.088),(213,0.086),(215,0.078),(217,0.072),(218,0.07),(219,0.09),(221,0.09),(223,0.089),(225,0.086),(227,0.092),(229,0.099),(232,0.111),(234,0.111),(235,0.124),(237,0.128),(238,0.149),(240,0.145),(242,0.137),(243,0.158),(244,0.17),(245,0.191),(247,0.192),(249,0.195),(250,0.205),(251,0.203),(253,0.197),(255,0.195),(256,0.199),(258,0.195),(260,0.187),(261,0.185),(263,0.183),(264,0.128),(265,0.141),(266,0.12),(267,0.137),(268,0.141),(269,0.159),(271,0.162),(272,0.174),(273,0.174),(275,0.172),(276,0.166),(278,0.166),(279,0.17),(281,0.17),(282,0.174),(284,0.179),(286,0.166),(287,0.162),(289,0.162),(290,0.158),(291,0.141),(293,0.132),(294,0.124),(295,0.166)]

# ---------------- panel 4: 每轮起点归一 ----------------
p4_beige = [(1,1.0),(3,1.016),(5,1.018),(8,1.031),(10,1.023),(11,1.036),(13,1.041),(15,1.061),(17,1.081),(18,1.099),(20,1.112),(22,1.099),(23,1.112),(25,1.112),(27,1.092),(28,1.107),(30,1.099),(32,1.112),(33,1.099),(35,1.117),(36,1.092),(38,1.081),(40,1.066),(41,1.061),(43,1.074),(45,1.087),(46,1.092),(48,1.112),(50,1.117),(51,1.124),(53,1.132),(55,1.142),(56,1.15),(58,1.175),(59,1.183),(61,1.188),(63,1.213),(64,1.183),(66,1.2),(68,1.213),(69,1.218),(71,1.213),(73,1.238),(74,1.238),(76,1.263),(78,1.327),(79,1.365),(80,1.377),(81,1.491),(83,1.453),(85,1.466),(86,1.516),(87,1.466),(89,1.415),(91,1.428),(92,1.478),(94,1.516),(96,1.554),(97,1.567),(99,1.567),(100,1.466),(101,1.428),(103,1.44),(104,1.428),(106,1.453),(108,1.478),(109,1.491),(111,1.504),(113,1.529),(114,1.554),(116,1.554),(117,1.579),(119,1.592),(121,1.6),(122,1.605),(124,1.617),(125,1.529),(127,1.541),(128,1.554),(130,1.554),(132,1.567),(133,1.572),(135,1.567),(137,1.516),(138,1.466),(140,1.44),(142,1.415),(143,1.44),(145,1.428),(146,1.466),(148,1.415),(150,1.453),(151,1.453),(153,1.466),(155,1.478),(156,1.496),(158,1.504),(160,1.516),(161,1.536),(163,1.541),(166,1.541),(168,1.529),(170,1.541),(172,1.554),(174,1.567),(176,1.567),(179,1.579),(181,1.592),(183,1.617),(185,1.617),(187,1.622),(189,1.63),(191,1.648),(193,1.605),(195,1.643),(197,1.63),(199,1.648),(201,1.663),(203,1.663),(205,1.668),(207,1.617),(208,1.648),(210,1.668),(212,1.706),(214,1.731),(216,1.769),(218,1.782),(220,1.82),(222,1.858),(224,1.895),(226,1.87),(227,1.82),(228,1.883),(230,1.908),(232,1.933),(233,1.959),(235,1.984),(236,1.984),(238,2.022),(240,2.028),(241,2.072),(243,2.098),(244,2.148),(246,2.224),(247,2.3),(248,2.313),(249,2.249),(250,2.35),(251,2.414),(252,2.388),(253,2.452),(254,2.578),(255,2.591),(256,2.629),(257,2.565),(259,2.641),(261,2.679),(262,2.489),(263,2.489),(264,2.388),(265,2.439),(266,2.477),(268,2.527),(270,2.654),(271,2.692),(272,2.806),(273,2.831),(274,2.881),(276,2.629),(277,2.73),(278,2.692),(279,2.73),(280,2.692),(281,2.755),(282,2.831),(284,2.856),(286,2.881),(287,2.869),(289,2.906),(290,2.957),(292,2.995),(294,3.033),(295,3.109),(296,3.096),(297,3.058),(298,3.071)]
p4_gray = [(1,1.0),(3,1.026),(5,1.044),(8,1.061),(10,1.081),(12,1.081),(14,1.094),(16,1.132),(18,1.183),(21,1.233),(23,1.258),(24,1.263),(26,1.329),(28,1.271),(29,1.246),(31,1.309),(33,1.233),(34,1.208),(36,1.158),(38,1.208),(39,1.258),(41,1.195),(43,1.208),(44,1.203),(46,1.208),(47,1.271),(49,1.314),(51,1.309),(52,1.322),(54,1.334),(56,1.347),(57,1.365),(59,1.39),(61,1.397),(62,1.367),(64,1.39),(66,1.435),(67,1.46),(69,1.448),(70,1.486),(72,1.423),(74,1.41),(75,1.372),(77,1.41),(79,1.448),(80,1.511),(82,1.524),(84,1.473),(85,1.524),(87,1.511),(88,1.524),(90,1.542),(92,1.516),(93,1.499),(95,1.499),(97,1.516),(98,1.549),(100,1.587),(102,1.6),(103,1.592),(105,1.612),(107,1.574),(108,1.6),(110,1.625),(111,1.643),(113,1.643),(115,1.663),(116,1.663),(118,1.688),(120,1.718),(121,1.759),(123,1.769),(125,1.802),(126,1.794),(128,1.84),(129,1.853),(131,1.853),(133,1.885),(134,1.911),(136,1.921),(138,1.966),(139,1.878),(141,1.946),(143,1.991),(144,1.986),(145,1.936),(146,1.885),(148,1.89),(150,1.815),(151,1.764),(152,1.71),(153,1.6),(154,1.6),(156,1.668),(157,1.706),(158,1.69),(159,1.716),(161,1.63),(162,1.567),(163,1.541),(165,1.554),(167,1.617),(169,1.668),(171,1.718),(173,1.769),(175,1.787),(176,1.799),(177,1.744),(180,1.681),(181,1.643),(183,1.617),(184,1.643),(185,1.693),(187,1.731),(189,1.744),(191,1.744),(192,1.807),(194,1.82),(196,1.82),(197,1.794),(199,1.756),(200,1.82),(202,1.858),(204,1.883),(206,1.895),(209,1.895),(211,1.916),(212,1.959),(214,1.971),(216,1.996),(218,1.959),(219,1.908),(220,1.858),(222,1.933),(224,1.971),(226,1.989),(227,1.971),(229,1.959),(231,1.971),(233,1.959),(234,1.908),(236,1.875),(238,1.832),(239,1.883),(241,1.895),(243,1.933),(245,1.959),(247,1.971),(249,1.959),(250,1.933),(252,1.946),(254,1.959),(255,1.971),(257,1.966),(259,1.908),(260,1.895),(262,1.82),(263,1.807),(266,1.799),(267,1.782),(269,1.794),(271,1.774),(273,1.79),(275,1.82),(277,1.845),(278,1.875),(280,1.858),(282,1.883),(283,1.845),(285,1.875),(286,1.865),(288,1.85),(290,1.832),(291,1.82),(293,1.858),(294,1.87),(296,1.883),(298,1.865),(299,1.89),(300,1.921)]
p4_lblue = [(1,1.0),(3,1.018),(5,1.023),(8,1.023),(10,1.031),(11,1.023),(13,1.016),(15,1.011),(16,1.011),(18,1.023),(20,1.036),(21,1.041),(23,1.056),(25,1.049),(26,1.056),(28,1.036),(29,1.056),(31,1.066),(33,1.049),(34,1.056),(36,1.061),(38,1.066),(39,1.099),(41,1.112),(43,1.117),(44,1.124),(46,1.112),(48,1.132),(49,1.142),(51,1.15),(52,1.157),(54,1.142),(56,1.167),(57,1.175),(59,1.167),(61,1.15),(62,1.162),(64,1.142),(66,1.175),(67,1.2),(69,1.208),(70,1.218),(72,1.218),(74,1.225),(75,1.208),(77,1.225),(79,1.238),(80,1.225),(82,1.238),(84,1.25),(85,1.276),(87,1.289),(88,1.276),(90,1.268),(92,1.276),(93,1.258),(95,1.243),(97,1.25),(98,1.225),(100,1.25),(102,1.238),(103,1.225),(105,1.25),(107,1.268),(108,1.284),(110,1.301),(111,1.294),(113,1.294),(115,1.301),(116,1.314),(118,1.339),(120,1.377),(121,1.415),(123,1.42),(125,1.453),(126,1.504),(127,1.529),(129,1.554),(130,1.466),(131,1.519),(133,1.529),(134,1.554),(136,1.572),(138,1.567),(139,1.529),(141,1.491),(143,1.554),(144,1.567),(146,1.605),(148,1.622),(149,1.592),(151,1.579),(152,1.605),(154,1.63),(156,1.529),(157,1.567),(158,1.579),(159,1.579),(160,1.636),(161,1.643),(162,1.656),(163,1.643),(165,1.63),(167,1.592),(169,1.592),(171,1.579),(172,1.554),(174,1.592),(176,1.622),(178,1.668),(180,1.673),(182,1.718),(184,1.693),(186,1.731),(188,1.744),(190,1.744),(191,1.782),(193,1.82),(195,1.883),(196,1.895),(198,1.959),(199,1.966),(201,1.976),(203,2.022),(204,2.034),(206,2.085),(207,2.148),(209,2.173),(211,2.224),(212,2.262),(214,2.224),(216,2.287),(218,2.363),(219,2.414),(221,2.414),(223,2.376),(225,2.414),(226,2.325),(228,2.262),(230,2.376),(231,2.489),(233,2.489),(234,2.489),(236,2.603),(239,2.742),(240,2.83),(241,2.906),(243,2.919),(244,2.73),(245,2.755),(246,2.919),(248,3.008),(249,3.02),(251,3.058),(253,3.063),(254,3.109),(255,3.172),(256,3.109),(257,2.982),(258,3.033),(260,2.717),(261,2.818),(263,2.704),(264,2.338),(265,2.464),(267,2.224),(269,2.047),(270,1.959),(272,1.769),(273,1.959),(274,2.161),(276,2.186),(277,2.06),(278,2.098),(279,2.224),(280,2.275),(282,2.325),(283,2.376),(284,2.325),(285,2.136),(286,2.072),(287,2.173),(288,2.098),(290,2.034),(291,2.148),(293,2.098),(294,2.287),(296,2.262),(298,2.313),(299,2.338),(300,2.161)]
p4_blue = [(1,1.0),(3,1.011),(4,1.036),(6,1.041),(8,1.049),(10,1.061),(11,1.056),(13,1.074),(15,1.066),(16,1.066),(18,1.061),(20,1.054),(22,1.036),(23,1.074),(25,1.099),(27,1.112),(28,1.112),(30,1.137),(32,1.137),(33,1.23),(35,1.213),(37,1.225),(39,1.25),(40,1.284),(42,1.314),(43,1.25),(45,1.314),(46,1.289),(47,1.268),(49,1.314),(51,1.319),(52,1.319),(54,1.314),(56,1.289),(57,1.294),(59,1.365),(61,1.377),(62,1.395),(64,1.395),(66,1.372),(68,1.362),(69,1.395),(71,1.395),(72,1.402),(74,1.377),(75,1.365),(77,1.327),(79,1.289),(80,1.213),(82,1.213),(84,1.25),(85,1.238),(87,1.263),(88,1.25),(90,1.225),(92,1.25),(93,1.2),(95,1.218),(97,1.225),(98,1.218),(100,1.225),(102,1.2),(103,1.183),(105,1.225),(107,1.218),(108,1.213),(110,1.238),(112,1.268),(114,1.263),(115,1.268),(117,1.258),(119,1.276),(120,1.301),(122,1.284),(123,1.263),(126,1.25),(127,1.25),(129,1.258),(131,1.263),(132,1.258),(134,1.243),(135,1.263),(137,1.258),(139,1.263),(140,1.268),(142,1.243),(144,1.213),(145,1.193),(147,1.2),(149,1.193),(150,1.2),(152,1.213),(154,1.25),(156,1.25),(158,1.243),(160,1.263),(161,1.25),(163,1.276),(166,1.289),(168,1.306),(169,1.314),(171,1.327),(173,1.327),(175,1.289),(176,1.314),(179,1.301),(180,1.289),(182,1.268),(184,1.258),(186,1.276),(187,1.294),(189,1.301),(191,1.301),(193,1.289),(195,1.276),(197,1.289),(199,1.294),(201,1.276),(203,1.294),(205,1.301),(207,1.289),(210,1.268),(212,1.263),(214,1.284),(216,1.268),(218,1.258),(220,1.263),(222,1.258),(225,1.263),(227,1.276),(229,1.284),(231,1.284),(233,1.314),(235,1.327),(238,1.32),(239,1.301),(240,1.322),(242,1.327),(244,1.339),(246,1.365),(248,1.372),(250,1.385),(252,1.395),(254,1.39),(256,1.39),(258,1.395),(260,1.39),(261,1.238),(262,1.284),(264,1.301),(266,1.327),(268,1.339),(269,1.352),(271,1.365),(272,1.39),(274,1.41),(276,1.428),(278,1.428),(279,1.415),(281,1.352),(282,1.39),(283,1.41),(285,1.44),(286,1.377),(288,1.402),(290,1.37),(291,1.289),(293,1.258),(294,1.263),(297,1.213),(299,1.289),(300,1.268)]
p4_red = [(1,1.006),(3,1.0),(4,1.01),(6,0.98),(8,0.978),(9,0.978),(11,0.965),(12,0.98),(14,0.99),(15,1.036),(16,1.074),(18,1.137),(19,1.213),(20,1.34),(21,1.238),(22,1.238),(23,1.193),(24,1.225),(25,1.2),(27,1.188),(28,1.238),(29,1.258),(31,1.263),(32,1.25),(34,1.276),(35,1.263),(37,1.268),(38,1.25),(40,1.301),(41,1.314),(42,1.344),(44,1.339),(45,1.365),(46,1.344),(47,1.314),(48,1.276),(50,1.314),(51,1.319),(53,1.258),(55,1.263),(56,1.283),(58,1.289),(59,1.319),(61,1.314),(62,1.327),(64,1.332),(65,1.339),(67,1.344),(68,1.314),(70,1.301),(72,1.301),(73,1.289),(75,1.284),(76,1.289),(78,1.294),(80,1.284),(81,1.238),(82,1.2),(84,1.213),(86,1.213),(87,1.2),(88,1.188),(89,1.238),(91,1.233),(93,1.238),(95,1.243),(96,1.233),(98,1.238),(99,1.243),(101,1.276),(103,1.301),(104,1.289),(106,1.301),(108,1.306),(109,1.327),(111,1.334),(112,1.322),(114,1.334),(116,1.289),(117,1.314),(119,1.322),(121,1.327),(122,1.327),(124,1.327),(126,1.352),(128,1.352),(129,1.339),(131,1.314),(133,1.314),(135,1.294),(137,1.289),(139,1.289),(140,1.25),(141,1.162),(143,1.188),(145,1.213),(146,1.238),(148,1.233),(150,1.238),(151,1.25),(153,1.25),(155,1.243),(156,1.25),(158,1.263),(159,1.276),(161,1.284),(163,1.301),(166,1.289),(168,1.294),(170,1.314),(172,1.294),(174,1.284),(176,1.289),(178,1.301),(181,1.314),(183,1.301),(185,1.306),(187,1.301),(189,1.294),(191,1.289),(193,1.314),(195,1.327),(196,1.327),(198,1.339),(199,1.339),(201,1.347),(203,1.352),(204,1.365),(206,1.37),(208,1.377),(211,1.395),(213,1.41),(215,1.41),(217,1.42),(219,1.428),(221,1.402),(223,1.42),(226,1.435),(228,1.445),(230,1.453),(232,1.466),(234,1.491),(235,1.504),(237,1.521),(239,1.536),(240,1.554),(241,1.529),(243,1.567),(244,1.536),(246,1.504),(247,1.541),(248,1.529),(250,1.572),(252,1.572),(255,1.587),(256,1.572),(258,1.579),(260,1.592),(262,1.584),(264,1.63),(266,1.592),(268,1.579),(269,1.605),(271,1.554),(272,1.579),(275,1.579),(276,1.605),(278,1.63),(280,1.612),(282,1.612),(283,1.6),(285,1.625),(287,1.62),(288,1.612),(290,1.63),(291,1.605),(293,1.605),(294,1.587),(295,1.516)]

LABELS_P1 = ['60日宽度 2006.01-2007.03', '2009.01-2010.03', '2014.06-2015.08', '2019.01-2020.03', '2024.09至今']
LABELS_P2 = ['240日宽度 2006.01-2007.03', '2009.01-2010.03', '2014.06-2015.08', '2019.01-2020.03', '2024.09至今']
LABELS_P3 = ['2006.01-2007.03', '2009.01-2010.03', '2014.06-2015.08', '2019.01-20.03', '2024.09至今']
LABELS_P4 = ['2006.01-2007.03', '2009.01-2010.03', '2014.06-2015.08', '2019.01-2020.03', '2024.09至今']

C_BEIGE, C_GRAY, C_LBLUE, C_BLUE, C_RED = '#DDD9C3', '#A6A6A6', '#92CDDC', '#0070C0', '#C00000'
STYLES = [(C_BEIGE, 1.8), (C_GRAY, 1.8), (C_LBLUE, 1.8), (C_BLUE, 3.2), (C_RED, 3.2)]

fig = plt.figure(figsize=(W / 100, H / 100), dpi=100)


def fx(px):
    return px / W


def fy(py):
    return 1 - py / H


def add_panel(x0, x1, ytop, ybot):
    return fig.add_axes([fx(x0), fy(ybot), (x1 - x0) / W, (ybot - ytop) / H])


def style(ax, ylim, yticks, tcolor):
    ax.set_xlim(0.5, 300.5)
    ax.set_ylim(*ylim)
    for s in ('left', 'right', 'top'):
        ax.spines[s].set_visible(False)
    ax.spines['bottom'].set_color('#D9D9D9')
    ax.spines['bottom'].set_linewidth(2)
    ax.set_xticks(range(1, 300, 5))
    ax.set_xticklabels([str(i) for i in range(1, 300, 5)], rotation=90,
                       fontsize=18.5, color=tcolor)
    ax.set_xticks(np.arange(0.5, 301, 1), minor=True)
    ax.tick_params(axis='x', which='major', length=0, pad=9)
    ax.tick_params(axis='x', which='minor', length=6.5, width=1.1, color='#D9D9D9')
    ax.set_yticks(yticks)
    ax.set_yticklabels([f'{v:g}' for v in yticks], fontsize=20, color=tcolor)
    ax.tick_params(axis='y', length=0, pad=17)
    ax.patch.set_alpha(0)


def draw(ax, series):
    for s, (c, lw) in zip(series, STYLES):
        xs, ys = zip(*s)
        ax.plot(xs, ys, color=c, lw=lw, solid_joinstyle='round', solid_capstyle='butt')


def legend(entries, labels, y, tcolor):
    for x0, lab, (c, lw) in zip(entries, labels, STYLES):
        fig.add_artist(Line2D([fx(x0), fx(x0 + 62)], [fy(y), fy(y)],
                              transform=fig.transFigure, color=c, lw=lw))
        fig.text(fx(x0 + 68), fy(y), lab, fontsize=20, color=tcolor,
                 ha='left', va='center_baseline')


def arrow(ax, start, end):
    ax.annotate('', xy=end, xytext=start,
                arrowprops=dict(arrowstyle='-|>', color=C_RED, lw=3.2,
                                mutation_scale=32, shrinkA=0, shrinkB=0))


# title and rules
fig.text(fx(26), fy(30), '图27:', fontsize=27, fontweight='bold', va='center')
fig.text(fx(200), fy(30), '“市场宽度”由升转降', fontsize=27, fontweight='bold', va='center')
fig.add_artist(Line2D([0, fx(2253)], [fy(61), fy(61)], transform=fig.transFigure,
                      color='#262626', lw=2.2))
fig.add_artist(Line2D([0, fx(2253)], [fy(2860), fy(2860)], transform=fig.transFigure,
                      color='#262626', lw=2.2))
fig.text(fx(24), fy(2894), '数据来源：Wind，广发证券发展研究中心', fontsize=26,
         va='center', color='#1a1a1a')

# panel 1
ax1 = add_panel(164.6, 2182.2, 132.2, 673.8)
style(ax1, (0, 120), list(range(0, 121, 20)), 'black')
draw(ax1, [p1_beige, p1_gray, p1_lblue, p1_blue, p1_red])
arrow(ax1, (265.3, 26.6), (289.3, 48))
arrow(ax1, (293, 64.8), (300.2, 37.7))
fig.text(fx(193), fy(132), '%', fontsize=20, va='center')
legend([454, 873, 1172, 1472, 1771], LABELS_P1, 153, 'black')

# panel 2
ax2 = add_panel(150.2, 2167.4, 871.8, 1401.6)
style(ax2, (0, 100), list(range(0, 101, 10)), 'black')
draw(ax2, [p2_beige, p2_gray, p2_lblue, p2_blue, p2_red])
arrow(ax2, (259.6, 60.4), (294, 70.4))
arrow(ax2, (292.7, 87.8), (299.8, 68.2))
fig.text(fx(176), fy(783), '%', fontsize=20, va='center', color='#595959')
legend([456, 944, 1433], [LABELS_P2[i] for i in (0, 1, 2)], 773, 'black')
for x0, i in ((456, 3), (944, 4)):
    c, lw = STYLES[i]
    fig.add_artist(Line2D([fx(x0), fx(x0 + 62)], [fy(827), fy(827)],
                          transform=fig.transFigure, color=c, lw=lw))
    fig.text(fx(x0 + 68), fy(827), LABELS_P2[i], fontsize=20, ha='left',
             va='center_baseline')

# panel 3
ax3 = add_panel(163.7, 2155.7, 1573.3, 2060.2)
style(ax3, (0, 1), [round(v * 0.1, 1) for v in range(11)], '#404040')
draw(ax3, [p3_beige, p3_gray, p3_lblue, p3_blue, p3_red])
arrow(ax3, (256.3, 0.22), (292.5, 0.216))
fig.text(fx(134), fy(1543), '万得全A月度', fontsize=23, va='center', color='#404040',
         fontweight='bold')
legend([489, 828, 1168, 1506, 1815], LABELS_P3, 1549, '#404040')

# panel 4
ax4 = add_panel(162.4, 2122.9, 2228.5, 2751.7)
style(ax4, (0.5, 3.5), [0.5, 1, 1.5, 2, 2.5, 3, 3.5], 'black')
draw(ax4, [p4_beige, p4_gray, p4_lblue, p4_blue, p4_red])
arrow(ax4, (242.6, 1.162), (285.3, 1.428))
arrow(ax4, (289.2, 1.764), (297.9, 1.605))
fig.text(fx(149), fy(2194), '每轮起点归一', fontsize=23, va='center')
legend([462, 757, 1051, 1345, 1640], LABELS_P4, 2240, 'black')

fig.savefig('out.png', dpi=100)
